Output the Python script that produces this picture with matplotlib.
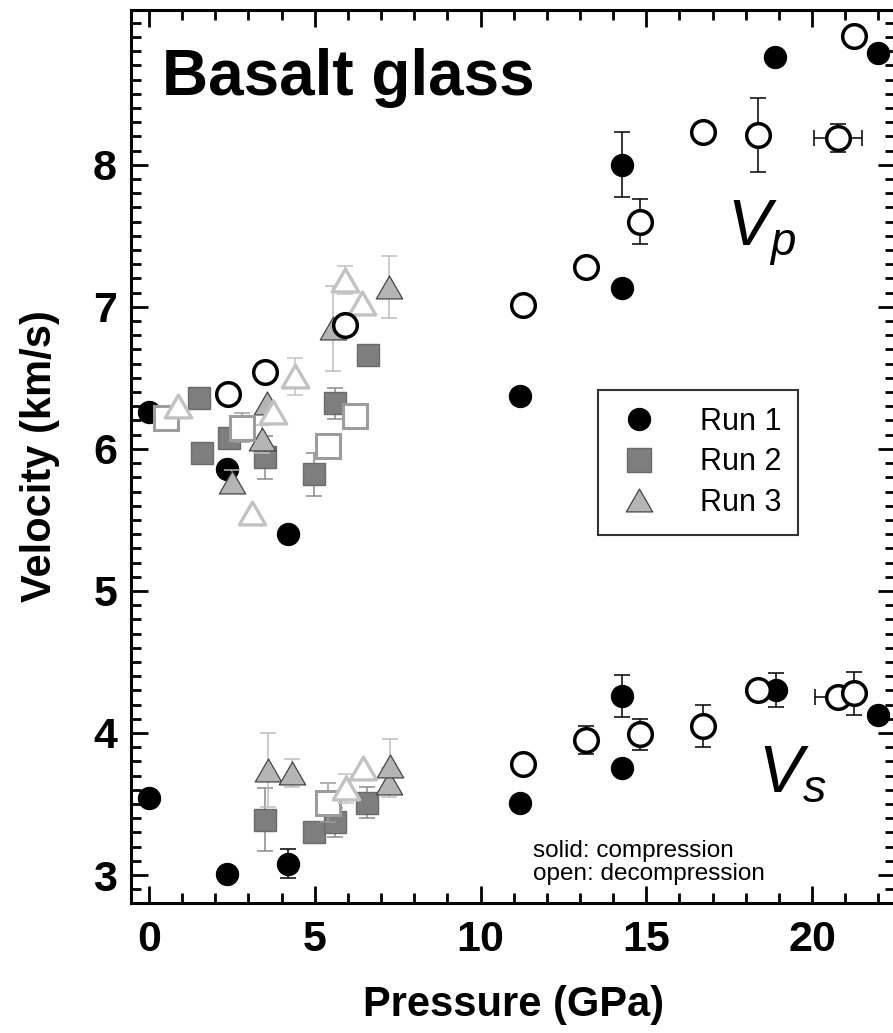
import numpy as np
import matplotlib
matplotlib.use("Agg")
import matplotlib.pyplot as plt
from matplotlib.markers import MarkerStyle
from matplotlib.path import Path
from matplotlib.lines import Line2D
from matplotlib.ticker import MultipleLocator, FixedLocator

plt.rcParams['font.family'] = ['Liberation Sans', 'DejaVu Sans']
plt.rcParams['mathtext.fontset'] = 'custom'
plt.rcParams['mathtext.it'] = 'Liberation Sans:italic'
plt.rcParams['mathtext.rm'] = 'Liberation Sans'

# ---------------- data: pressure (GPa), velocity (km/s), uncertainty ----------------
# Run 1 -- compression (solid circles)
r1_comp_vp_P  = [0.00, 2.35, 4.19, 11.20, 14.28, 14.28, 18.89, 21.99]
r1_comp_vp_V  = [6.26, 5.86, 5.40, 6.37, 7.13, 8.00, 8.76, 8.79]
r1_comp_vp_dV = [0, 0, 0, 0, 0, 0.23, 0, 0]
r1_comp_vs_P  = [0.00, 2.35, 4.19, 11.20, 14.28, 14.28, 18.91, 21.99]
r1_comp_vs_V  = [3.54, 3.01, 3.08, 3.51, 3.75, 4.26, 4.30, 4.13]
r1_comp_vs_dV = [0, 0, 0.10, 0, 0, 0.15, 0.12, 0]

# Run 1 -- decompression (open circles)
r1_dec_vp_P  = [2.38, 3.50, 5.91, 11.28, 13.18, 14.81, 16.71, 18.37, 20.78, 21.27]
r1_dec_vp_V  = [6.39, 6.54, 6.87, 7.01, 7.28, 7.60, 8.23, 8.21, 8.19, 8.91]
r1_dec_vp_dV = [0, 0, 0, 0, 0, 0.16, 0, 0.26, 0.10, 0]
r1_dec_vp_dP = [0, 0, 0, 0, 0, 0, 0, 0, 0.73, 0]
r1_dec_vs_P  = [11.28, 13.18, 14.81, 16.71, 18.37, 20.78, 21.27]
r1_dec_vs_V  = [3.78, 3.95, 3.99, 4.05, 4.30, 4.25, 4.28]
r1_dec_vs_dV = [0, 0.10, 0.11, 0.15, 0, 0, 0.15]
r1_dec_vs_dP = [0, 0, 0, 0, 0, 0.70, 0]

# Run 2 -- compression (solid squares)
r2_comp_vp_P  = [1.51, 1.60, 2.41, 3.50, 4.98, 5.61, 6.61]
r2_comp_vp_V  = [6.36, 5.97, 6.08, 5.94, 5.82, 6.32, 6.66]
r2_comp_vp_dV = [0, 0, 0, 0.15, 0.15, 0.11, 0]
r2_comp_vs_P  = [3.50, 4.98, 5.61, 6.58]
r2_comp_vs_V  = [3.39, 3.30, 3.37, 3.51]
r2_comp_vs_dV = [0.22, 0, 0.10, 0.11]

# Run 2 -- decompression (open squares)
r2_dec_vp_P  = [0.51, 2.81, 5.40, 6.21]
r2_dec_vp_V  = [6.22, 6.15, 6.02, 6.23]
r2_dec_vp_dV = [0, 0.10, 0, 0]
r2_dec_vs_P  = [5.40]
r2_dec_vs_V  = [3.51]
r2_dec_vs_dV = [0.14]

# Run 3 -- compression (solid triangles)
r3_comp_vp_P  = [2.50, 3.41, 3.56, 5.55, 7.24]
r3_comp_vp_V  = [5.77, 6.07, 6.32, 6.85, 7.14]
r3_comp_vp_dV = [0.08, 0.10, 0, 0.30, 0.22]
r3_comp_vs_P  = [3.59, 4.31, 7.24, 7.27]
r3_comp_vs_V  = [3.74, 3.72, 3.65, 3.77]
r3_comp_vs_dV = [0.26, 0.10, 0.10, 0.19]

# Run 3 -- decompression (open triangles)
r3_dec_vp_P  = [0.87, 3.11, 3.74, 4.40, 5.91, 6.43]
r3_dec_vp_V  = [6.30, 5.55, 6.26, 6.51, 7.19, 7.03]
r3_dec_vp_dV = [0, 0, 0, 0.13, 0.10, 0]
r3_dec_vs_P  = [5.94, 6.46]
r3_dec_vs_V  = [3.61, 3.75]
r3_dec_vs_dV = [0.10, 0]

run_labels = ['Run 1', 'Run 2', 'Run 3']
y_major_ticks = [3, 4, 5, 6, 7, 8]

# ---------------- styling ----------------
tri = MarkerStyle(Path([(-1, -0.866), (1, -0.866), (0, 0.866), (-1, -0.866)],
                       [Path.MOVETO, Path.LINETO, Path.LINETO, Path.CLOSEPOLY]),
                  joinstyle='miter')

styles = {
    'r1c': dict(marker='o', ms=16, mfc='black', mec='black', mew=0.8, ecolor='black'),
    'r1d': dict(marker='o', ms=17, mfc='white', mec='black', mew=2.5, ecolor='black'),
    'r2c': dict(marker='s', ms=16, mfc='#7e7e7e', mec='#6a6a6a', mew=1.0, ecolor='#8a8a8a'),
    'r2d': dict(marker='s', ms=17, mfc='white', mec='#9c9c9c', mew=2.2, ecolor='#9c9c9c'),
    'r3c': dict(marker=tri, ms=19, mfc='#b5b5b5', mec='#444444', mew=0.9, ecolor='#bdbdbd'),
    'r3d': dict(marker=tri, ms=19, mfc='white', mec='#c2c2c2', mew=2.4, ecolor='#c2c2c2'),
}

fig = plt.figure(figsize=(8.93, 10.33), dpi=100)
ax = fig.add_axes([131 / 893, 130 / 1033, 764 / 893, 893 / 1033])


def draw(P, V, dV, key, dP=None, z=3):
    s = styles[key]
    P = np.asarray(P, float)
    V = np.asarray(V, float)
    dV = np.asarray(dV, float)
    dPa = np.zeros_like(P) if dP is None else np.asarray(dP, float)
    m = (dV > 0) | (dPa > 0)
    if m.any():
        ye = np.where(dV[m] > 0, dV[m], np.nan)
        xe = np.where(dPa[m] > 0, dPa[m], np.nan)
        ax.errorbar(P[m], V[m], yerr=ye, xerr=xe if (dPa > 0).any() else None,
                    fmt='none', ecolor=s['ecolor'], elinewidth=1.1,
                    capsize=6, capthick=1.1, zorder=z - 0.1)
    ax.plot(P, V, ls='none', marker=s['marker'], ms=s['ms'], mfc=s['mfc'],
            mec=s['mec'], mew=s['mew'], zorder=z)


draw(r1_comp_vp_P, r1_comp_vp_V, r1_comp_vp_dV, 'r1c', z=3)
draw(r1_comp_vs_P, r1_comp_vs_V, r1_comp_vs_dV, 'r1c', z=3)
draw(r2_comp_vp_P, r2_comp_vp_V, r2_comp_vp_dV, 'r2c', z=4)
draw(r2_comp_vs_P, r2_comp_vs_V, r2_comp_vs_dV, 'r2c', z=4)
draw(r3_comp_vp_P, r3_comp_vp_V, r3_comp_vp_dV, 'r3c', z=5)
draw(r3_comp_vs_P, r3_comp_vs_V, r3_comp_vs_dV, 'r3c', z=5)
draw(r2_dec_vp_P, r2_dec_vp_V, r2_dec_vp_dV, 'r2d', z=6)
draw(r2_dec_vs_P, r2_dec_vs_V, r2_dec_vs_dV, 'r2d', z=6)
draw(r3_dec_vp_P, r3_dec_vp_V, r3_dec_vp_dV, 'r3d', z=7)
draw(r3_dec_vs_P, r3_dec_vs_V, r3_dec_vs_dV, 'r3d', z=7)
draw(r1_dec_vp_P, r1_dec_vp_V, r1_dec_vp_dV, 'r1d', dP=r1_dec_vp_dP, z=8)
draw(r1_dec_vs_P, r1_dec_vs_V, r1_dec_vs_dV, 'r1d', dP=r1_dec_vs_dP, z=8)

# ---------------- axes ----------------
ax.set_xlim(-0.54, 22.5)
ax.set_ylim(2.803, 9.09)
ax.xaxis.set_major_locator(MultipleLocator(5))
ax.xaxis.set_minor_locator(MultipleLocator(1))
ax.yaxis.set_major_locator(FixedLocator(y_major_ticks))
ax.yaxis.set_minor_locator(MultipleLocator(0.1))
ax.tick_params(which='both', direction='in', top=True, right=True, width=2.0)
ax.tick_params(which='major', length=12, labelsize=31)
ax.tick_params(axis='x', which='major', pad=12)
ax.tick_params(axis='y', which='major', pad=10)
ax.tick_params(which='minor', length=7)
for lab in ax.get_xticklabels() + ax.get_yticklabels():
    lab.set_fontweight('bold')
for sp in ax.spines.values():
    sp.set_linewidth(2.2)

ax.set_xlabel('Pressure (GPa)', fontsize=30, fontweight='bold')
ax.set_ylabel('Velocity (km/s)', fontsize=30, fontweight='bold')
ax.xaxis.set_label_coords(0.501, -0.092)
ax.yaxis.set_label_coords(-0.093, 0.5)

# ---------------- annotations ----------------
ax.text(0.0406, 0.9048, 'Basalt glass', transform=ax.transAxes, fontsize=46,
        fontweight='bold', ha='left', va='baseline')
ax.text(17.44, 7.42, r'$V_p$', fontsize=47, ha='left', va='baseline')
ax.text(18.37, 3.585, r'$V_s$', fontsize=48, ha='left', va='baseline')
ax.text(11.58, 3.127, 'solid: compression', fontsize=17.5, ha='left', va='baseline')
ax.text(11.58, 2.965, 'open: decompression', fontsize=17.5, ha='left', va='baseline')

# ---------------- legend ----------------
handles = [
    Line2D([], [], ls='none', marker='o', ms=16, mfc='black', mec='black', mew=0.8),
    Line2D([], [], ls='none', marker='s', ms=17, mfc='#7e7e7e', mec='#6a6a6a', mew=1.0),
    Line2D([], [], ls='none', marker=tri, ms=19, mfc='#b5b5b5', mec='#444444', mew=0.9),
]
leg = ax.legend(handles, run_labels, loc='upper left', bbox_to_anchor=(0.611, 0.5745),
                borderaxespad=0, fontsize=22, frameon=True, fancybox=False,
                edgecolor='#333333', framealpha=1, borderpad=0.55,
                labelspacing=0.35, handletextpad=1.2, handlelength=1.6)
leg.get_frame().set_linewidth(1.5)

fig.savefig('out.png', dpi=100)
